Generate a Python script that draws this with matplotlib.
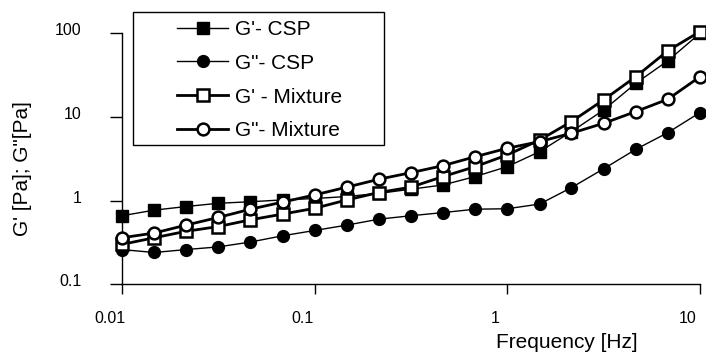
import matplotlib
matplotlib.use("Agg")
import matplotlib.pyplot as plt
import matplotlib.transforms as mtransforms
from matplotlib.patches import Rectangle
from matplotlib.ticker import FixedLocator, NullLocator

plt.rcParams['font.family'] = ['Liberation Sans', 'DejaVu Sans']

freq = [0.01, 0.0147, 0.0215, 0.0316, 0.0464, 0.0681, 0.1, 0.147, 0.215, 0.316,
        0.464, 0.681, 1.0, 1.47, 2.15, 3.16, 4.64, 6.81, 10.0]
g1_csp = [0.66, 0.77, 0.85, 0.93, 0.97, 1.02, 1.06, 1.12, 1.22, 1.37,
          1.54, 1.94, 2.55, 3.85, 6.67, 12.1, 25.2, 47, 100]
g2_csp = [0.26, 0.24, 0.26, 0.28, 0.32, 0.38, 0.44, 0.51, 0.60, 0.66,
          0.72, 0.79, 0.80, 0.91, 1.43, 2.4, 4.1, 6.5, 11.3]
g1_mix = [0.30, 0.36, 0.43, 0.49, 0.59, 0.69, 0.81, 1.02, 1.25, 1.45,
          1.94, 2.55, 3.52, 5.3, 8.8, 16.0, 30.3, 61.8, 105]
g2_mix = [0.36, 0.41, 0.51, 0.63, 0.79, 0.96, 1.17, 1.45, 1.80, 2.16,
          2.62, 3.35, 4.23, 5.07, 6.4, 8.4, 11.6, 16.3, 30.3]

labels = ["G'- CSP", 'G"- CSP', "G' - Mixture", 'G"- Mixture']
xticks = [0.01, 0.1, 1, 10]
xticklabels = ['0.01', '0.1', '1', '10']
yticks = [0.1, 1, 10, 100]
yticklabels = ['0.1', '1', '10', '100']

fig = plt.figure(figsize=(7.06, 3.52), dpi=100)
ax = fig.add_axes([122/706, 1-284.3/352, (700-122)/706, (284.3-33.3)/352])

ax.plot(freq, g1_csp, '-s', color='black', lw=1.0, ms=8, mfc='black', mec='black',
        label=labels[0], clip_on=False, zorder=3)
ax.plot(freq, g2_csp, '-o', color='black', lw=1.0, ms=8.5, mfc='black', mec='black',
        label=labels[1], clip_on=False, zorder=3)
ax.plot(freq, g1_mix, '-s', color='black', lw=2.0, ms=8, mfc='white', mec='black', mew=1.8,
        label=labels[2], clip_on=False, zorder=4)
ax.plot(freq, g2_mix, '-o', color='black', lw=2.0, ms=8.5, mfc='white', mec='black', mew=1.8,
        label=labels[3], clip_on=False, zorder=5)

ax.set_xscale('log')
ax.set_yscale('log')
ax.set_xlim(0.01, 10)
ax.set_ylim(0.1, 100)
ax.xaxis.set_major_locator(FixedLocator(xticks))
ax.yaxis.set_major_locator(FixedLocator(yticks))
ax.xaxis.set_minor_locator(NullLocator())
ax.yaxis.set_minor_locator(NullLocator())
ax.set_xticklabels(xticklabels)
ax.set_yticklabels(yticklabels)

for s in ['top', 'right']:
    ax.spines[s].set_visible(False)
for s in ['left', 'bottom']:
    ax.spines[s].set_linewidth(1.0)

ax.tick_params(axis='x', direction='out', length=7, width=1, pad=12, labelsize=11.5)
ax.tick_params(axis='y', direction='out', length=9, width=1, pad=20, labelsize=11.5)

for lab in ax.get_xticklabels():
    lab.set_transform(lab.get_transform() + mtransforms.ScaledTranslation(-12/100, 0, fig.dpi_scale_trans))
for lab in ax.get_yticklabels():
    lab.set_transform(lab.get_transform() + mtransforms.ScaledTranslation(0, 4/100, fig.dpi_scale_trans))

fig.text(567/706, 1-342/352, 'Frequency [Hz]', ha='center', va='center', fontsize=15)
fig.text(23/706, 1-168.5/352, 'G\' [Pa]; G"[Pa]', ha='center', va='center', rotation=90, fontsize=15)

# legend box (drawn separately to match the wide padding of the original)
fig.patches.append(Rectangle((133/706, 1-145/352), (384-133)/706, (145-12)/352,
                             transform=fig.transFigure, facecolor='white',
                             edgecolor='black', linewidth=1.0, zorder=1))
leg = fig.legend(loc='upper left', bbox_to_anchor=(177/706, 1-20/352), fontsize=15,
                 frameon=False, handlelength=2.45, handletextpad=0.35,
                 labelspacing=0.71, borderpad=0, borderaxespad=0)

fig.savefig('out.png', dpi=100)
